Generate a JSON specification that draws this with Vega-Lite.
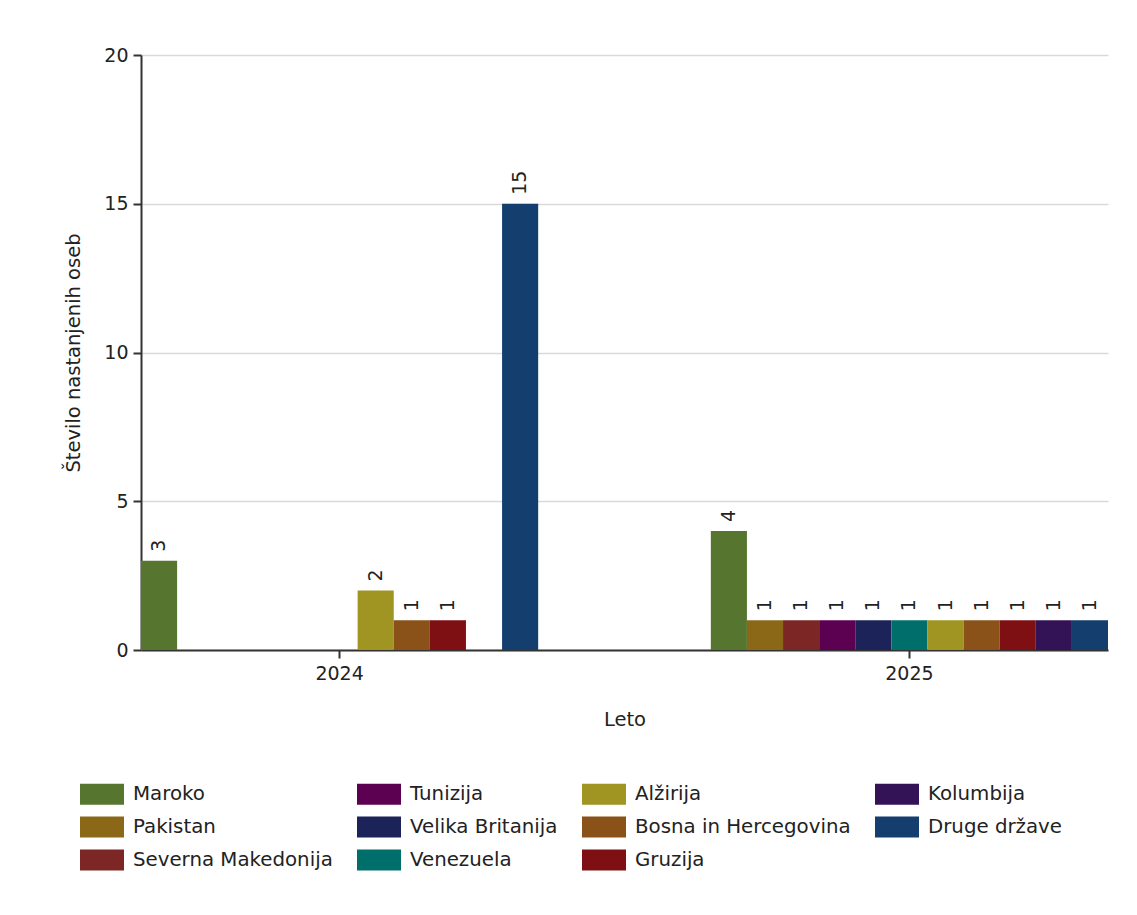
{
  "$schema": "https://vega.github.io/schema/vega-lite/v6.json",
  "autosize": "none",
  "width": 967,
  "height": 595,
  "padding": {"left": 141, "top": 55, "right": 29, "bottom": 265},
  "background": "white",
  "config": {"view": {"stroke": null}, "font": "DejaVu Sans"},
  "data": {
    "values": [
      {"leto": "2024", "drzava": "Maroko", "stevilo": 3},
      {"leto": "2024", "drzava": "Alžirija", "stevilo": 2},
      {"leto": "2024", "drzava": "Bosna in Hercegovina", "stevilo": 1},
      {"leto": "2024", "drzava": "Gruzija", "stevilo": 1},
      {"leto": "2024", "drzava": "Druge države", "stevilo": 15},
      {"leto": "2025", "drzava": "Maroko", "stevilo": 4},
      {"leto": "2025", "drzava": "Pakistan", "stevilo": 1},
      {"leto": "2025", "drzava": "Severna Makedonija", "stevilo": 1},
      {"leto": "2025", "drzava": "Tunizija", "stevilo": 1},
      {"leto": "2025", "drzava": "Velika Britanija", "stevilo": 1},
      {"leto": "2025", "drzava": "Venezuela", "stevilo": 1},
      {"leto": "2025", "drzava": "Alžirija", "stevilo": 1},
      {"leto": "2025", "drzava": "Bosna in Hercegovina", "stevilo": 1},
      {"leto": "2025", "drzava": "Gruzija", "stevilo": 1},
      {"leto": "2025", "drzava": "Kolumbija", "stevilo": 1},
      {"leto": "2025", "drzava": "Druge države", "stevilo": 1}
    ]
  },
  "encoding": {
    "x": {
      "field": "leto",
      "type": "nominal",
      "scale": {"paddingInner": 0.303, "paddingOuter": 0},
      "axis": {
        "title": "Leto",
        "labelAngle": 0,
        "domainColor": "#333333",
        "domainWidth": 2,
        "tickColor": "#333333",
        "tickWidth": 2,
        "tickSize": 8,
        "labelFontSize": 19,
        "labelColor": "#222222",
        "labelPadding": 6,
        "titleFontSize": 19.5,
        "titleFontWeight": "normal",
        "titleColor": "#222222",
        "titlePadding": 27
      }
    },
    "xOffset": {
      "field": "drzava",
      "type": "nominal",
      "scale": {
        "domain": ["Maroko", "Pakistan", "Severna Makedonija", "Tunizija", "Velika Britanija", "Venezuela", "Alžirija", "Bosna in Hercegovina", "Gruzija", "Kolumbija", "Druge države"],
        "paddingInner": 0,
        "paddingOuter": 0
      }
    },
    "y": {
      "field": "stevilo",
      "type": "quantitative",
      "scale": {"domain": [0, 20]},
      "axis": {
        "title": "Število nastanjenih oseb",
        "values": [0, 5, 10, 15, 20],
        "grid": true,
        "gridColor": "#d9d9d9",
        "gridWidth": 1.5,
        "domainColor": "#333333",
        "domainWidth": 2,
        "tickColor": "#333333",
        "tickWidth": 2,
        "tickSize": 8,
        "labelFontSize": 19,
        "labelColor": "#222222",
        "labelPadding": 5,
        "titleFontSize": 19.5,
        "titleFontWeight": "normal",
        "titleColor": "#222222",
        "titlePadding": 20
      }
    }
  },
  "layer": [
    {
      "mark": {"type": "bar"},
      "encoding": {
        "color": {
          "field": "drzava",
          "type": "nominal",
          "scale": {
            "domain": ["Maroko", "Tunizija", "Alžirija", "Kolumbija", "Pakistan", "Velika Britanija", "Bosna in Hercegovina", "Druge države", "Severna Makedonija", "Venezuela", "Gruzija"],
            "range": ["#56762F", "#5C0052", "#A09522", "#341256", "#8B6818", "#1C2359", "#8A5219", "#133E6E", "#7D2626", "#006E6B", "#7E1014"]
          },
          "legend": {
            "orient": "none",
            "legendX": -61,
            "legendY": 717,
            "columns": 4,
            "direction": "horizontal",
            "title": null,
            "padding": 0,
            "symbolType": "M-1,-0.477L1,-0.477L1,0.477L-1,0.477Z",
            "symbolSize": 1936,
            "symbolStrokeWidth": 0,
            "symbolOpacity": 1,
            "labelFontSize": 19.8,
            "labelColor": "#222222",
            "labelOffset": 9,
            "labelLimit": 400,
            "columnPadding": 24,
            "rowPadding": -1.5
          }
        }
      }
    },
    {
      "mark": {"type": "text", "angle": 270, "align": "left", "baseline": "middle", "dx": 9, "fontSize": 19, "color": "#222222"},
      "encoding": {"text": {"field": "stevilo", "type": "quantitative"}}
    }
  ]
}
